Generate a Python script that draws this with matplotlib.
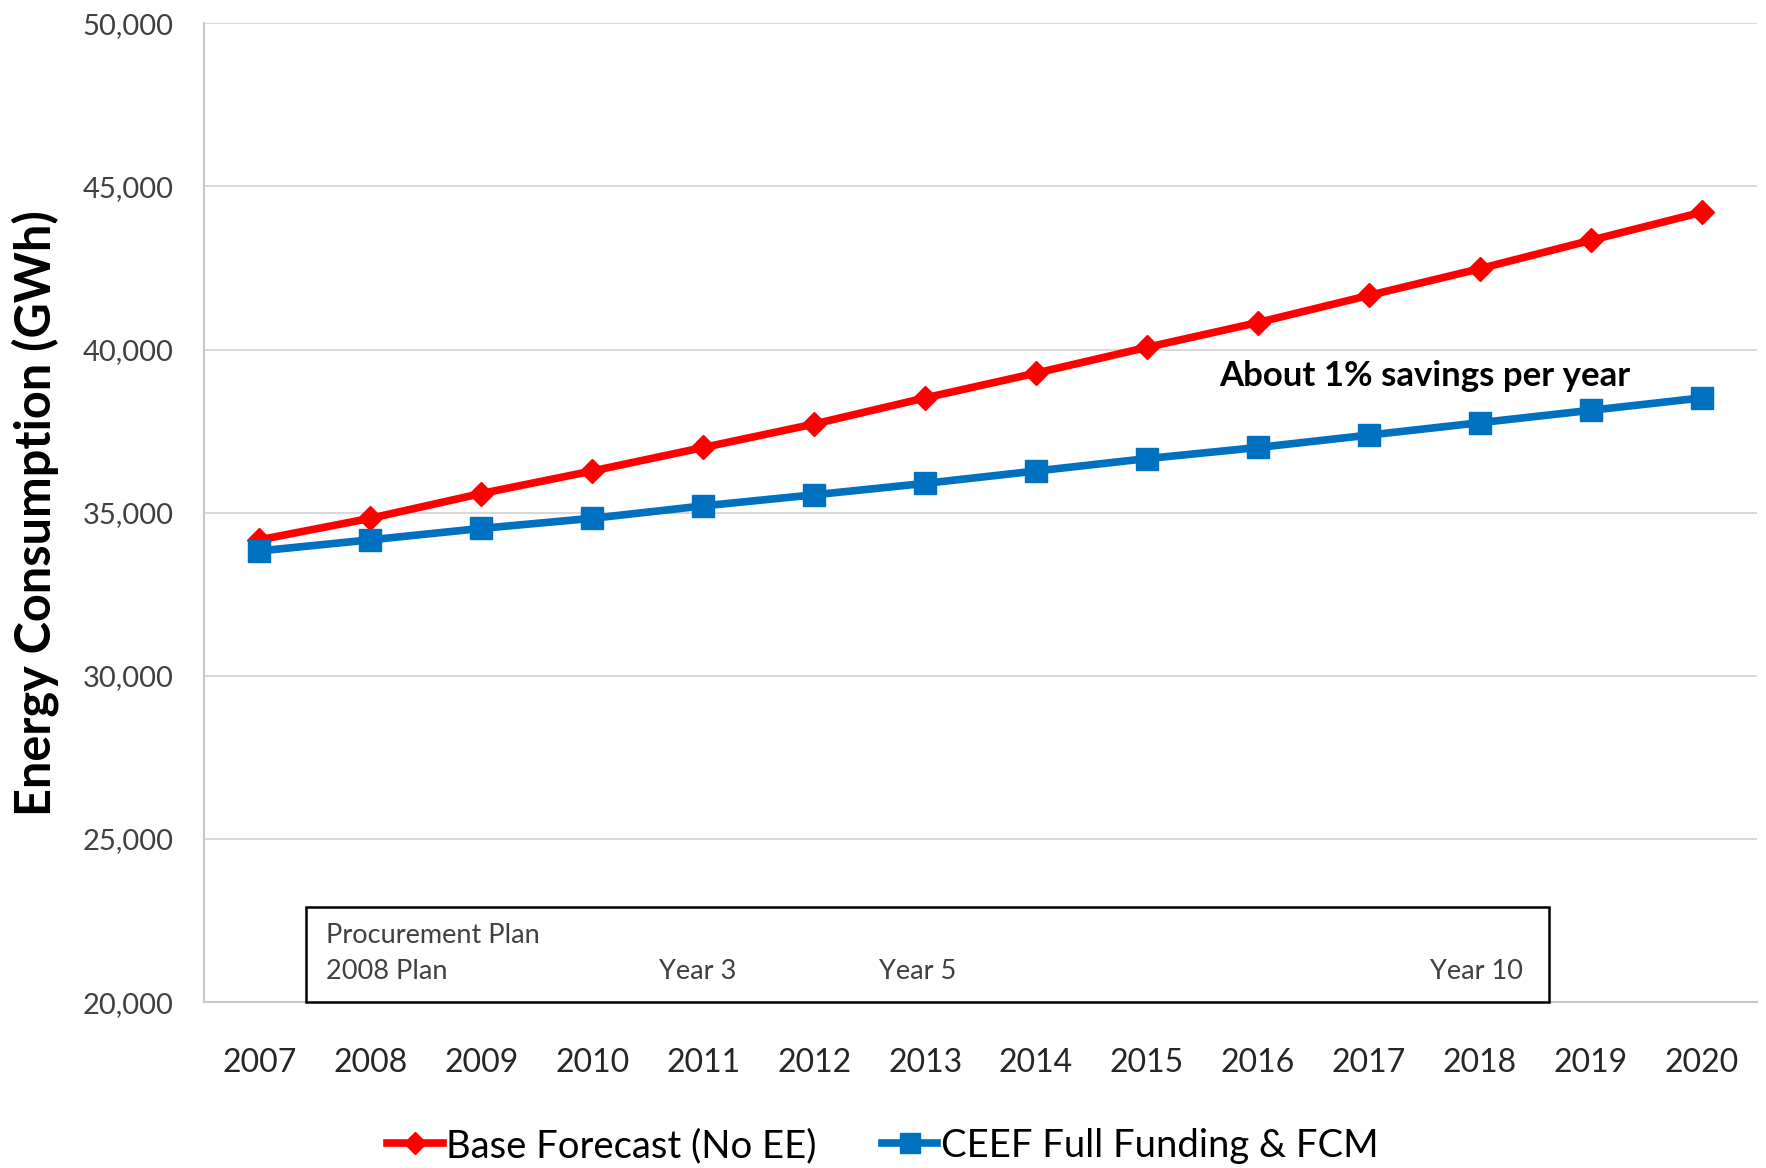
"""
Energy consumption forecast: base vs CEEF full funding
"""
import matplotlib
matplotlib.use("Agg")
import matplotlib.pyplot as plt
from matplotlib.patches import Rectangle
from matplotlib.ticker import FuncFormatter

plt.rcParams['font.family'] = ['Lato', 'DejaVu Sans']

# data
years = [2007, 2008, 2009, 2010, 2011, 2012, 2013,
         2014, 2015, 2016, 2017, 2018, 2019, 2020]
base_forecast = [34170, 34830, 35590, 36280, 37000, 37720, 38520,
                 39280, 40070, 40830, 41660, 42480, 43350, 44210]
ceef_full = [33830, 34170, 34520, 34830, 35210, 35550, 35900,
             36280, 36660, 37000, 37380, 37760, 38140, 38520]
series_names = ['Base Forecast (No EE)', 'CEEF Full Funding & FCM']
y_ticks = [20000, 25000, 30000, 35000, 40000, 45000, 50000]

fig = plt.figure(figsize=(17.66, 11.68), dpi=100)
ax = fig.add_axes([0.1155, 0.142, 0.8795, 0.838])

ax.plot(years, base_forecast, color='#FF0000', lw=5.5, marker='D', ms=12.5,
        label=series_names[0], zorder=4)
ax.plot(years, ceef_full, color='#0070C0', lw=5.5, marker='s', ms=15.5,
        label=series_names[1], zorder=4)

ax.set_xlim(years[0] - 0.5, years[-1] + 0.5)
ax.set_ylim(y_ticks[0], y_ticks[-1])
ax.set_xticks(years)
ax.set_yticks(y_ticks)
ax.yaxis.set_major_formatter(FuncFormatter(lambda v, p: f'{int(v):,}'))

ax.grid(axis='y', color='#D9D9D9', lw=1.5)
ax.set_axisbelow(True)
for s in ['top', 'right']:
    ax.spines[s].set_visible(False)
ax.spines['left'].set_color('#C8C8C8')
ax.spines['bottom'].set_color('#C8C8C8')
ax.spines['left'].set_linewidth(1.5)
ax.spines['bottom'].set_linewidth(1.5)

ax.tick_params(axis='both', length=0)
ax.tick_params(axis='y', labelsize=21, labelcolor='#404040', pad=22)
ax.tick_params(axis='x', labelsize=23, labelcolor='#262626', pad=33)

fig.text(0.020, 0.561, 'Energy Consumption (GWh)', rotation=90,
         ha='center', va='center', fontsize=35, fontweight='bold')

# annotation
ax.text(2017.5, 39200, 'About 1% savings per year', ha='center', va='center',
        fontsize=25, fontweight='bold', color='black')

# procurement plan box
box = Rectangle((2007.42, 20000), 11.2, 2930, fill=False, edgecolor='black',
                lw=1.8, zorder=5, clip_on=False)
ax.add_patch(box)
ax.add_patch(Rectangle((2007.42, 20000), 11.2, 2930, facecolor='white',
                       edgecolor='none', zorder=3))
ax.text(2007.6, 22050, 'Procurement Plan', fontsize=19.5, color='#404040',
        ha='left', va='center', zorder=6)
ax.text(2007.6, 20950, '2008 Plan', fontsize=19.5, color='#404040',
        ha='left', va='center', zorder=6)
ax.text(2010.95, 20950, 'Year 3', fontsize=19.5, color='#404040',
        ha='center', va='center', zorder=6)
ax.text(2012.93, 20950, 'Year 5', fontsize=19.5, color='#404040',
        ha='center', va='center', zorder=6)
ax.text(2017.97, 20950, 'Year 10', fontsize=19.5, color='#404040',
        ha='center', va='center', zorder=6)

fig.legend(loc='center', bbox_to_anchor=(0.5, 0.019), ncol=2, frameon=False,
           fontsize=27.5, handlelength=1.45, handletextpad=0.1, columnspacing=1.7,
           markerscale=0.9, borderpad=0.1)

fig.savefig('out.png', dpi=100)
